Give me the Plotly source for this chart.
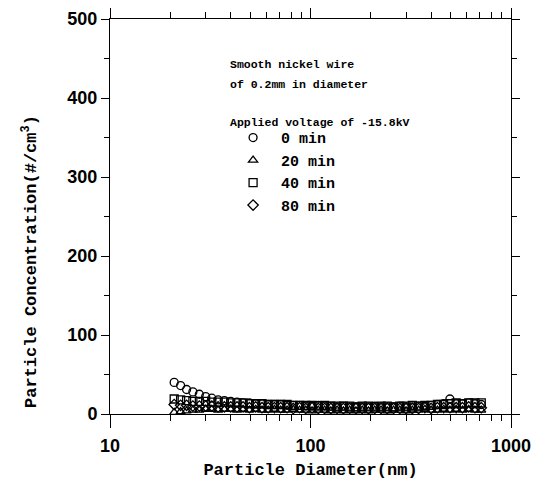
import plotly.graph_objects as go

diameter_nm = [20.9, 22.5, 24.1, 25.9, 27.9, 30.0, 32.2, 34.6, 37.2, 40.0,
               43.0, 46.1, 49.6, 53.3, 57.3, 61.5, 66.1, 71.0, 76.4, 82.0,
               88.2, 94.7, 101.8, 109.4, 117.6, 126.3, 135.7, 145.9, 156.8, 168.5,
               181.1, 194.6, 209.1, 224.7, 241.4, 259.5, 278.8, 299.6, 322.0, 346.0,
               371.8, 399.5, 429.4, 461.4, 495.8, 532.8, 572.5, 615.3, 661.2, 710.5]

conc_0min = [40, 36, 31, 28, 25, 22, 20, 18, 17, 16,
             15, 14, 14, 13, 13, 12, 12, 12, 11, 11,
             11, 10, 10, 11, 10, 10, 9, 10, 9, 9,
             9, 9, 10, 9, 9, 9, 10, 9, 9, 10,
             10, 11, 12, 13, 19, 13, 13, 14, 13, 12]

conc_20min = [2, 3, 4, 5, 5, 6, 6, 5, 6, 6,
              5, 6, 5, 6, 5, 5, 6, 5, 5, 6,
              5, 5, 4, 5, 5, 4, 5, 4, 5, 4,
              5, 4, 5, 5, 4, 5, 5, 4, 5, 5,
              6, 5, 5, 6, 5, 6, 5, 6, 5, 5]

conc_40min = [19, 18, 17, 16, 16, 16, 15, 15, 15, 14,
              14, 14, 13, 13, 13, 12, 12, 12, 12, 11,
              11, 11, 11, 10, 11, 10, 10, 10, 10, 9,
              10, 10, 9, 10, 10, 9, 10, 10, 11, 10,
              11, 11, 12, 12, 13, 14, 13, 14, 14, 14]

conc_80min = [12, 11, 11, 10, 10, 10, 10, 9, 9, 9,
              9, 9, 8, 9, 8, 8, 8, 8, 8, 7,
              8, 7, 8, 7, 7, 7, 7, 7, 7, 7,
              7, 7, 7, 7, 7, 7, 7, 7, 7, 7,
              8, 7, 8, 8, 8, 8, 8, 9, 8, 8]

series_names = ["0 min", "20 min", "40 min", "80 min"]
series_values = [conc_0min, conc_20min, conc_40min, conc_80min]
series_symbols = ["circle-open", "triangle-up-open", "square-open", "diamond-open"]

header_lines = ["Smooth nickel wire", "of 0.2mm in diameter", "Applied voltage of -15.8kV"]

x_tick_vals = [10, 100, 1000]
x_tick_text = ["10", "100", "1000"]
x_minor_vals = [20, 30, 40, 50, 60, 70, 80, 90, 200, 300, 400, 500, 600, 700, 800, 900]
y_tick_vals = [0, 100, 200, 300, 400, 500]

mono = "Liberation Mono"
sans = "Liberation Sans"

fig = go.Figure()
for name, vals, sym in zip(series_names, series_values, series_symbols):
    fig.add_trace(go.Scatter(
        x=diameter_nm, y=vals, mode="markers", name=name,
        marker=dict(symbol=sym, size=8, color="black", line=dict(color="black", width=1.3)),
    ))

# header text inside the plot (paper coordinates)
header_y = [0.884, 0.835, 0.739]
for txt, yy in zip(header_lines, header_y):
    fig.add_annotation(
        text=txt, xref="paper", yref="paper", x=0.294, y=yy,
        xanchor="left", yanchor="middle", showarrow=False,
        font=dict(family=mono, size=11.5, color="black", weight="bold"),
    )

# y-axis title (placed as in the reference, slightly below centre)
fig.add_annotation(
    text="Particle Concentration(#/cm<sup>3</sup>)", textangle=-90,
    xref="paper", yref="paper", x=-0.2, y=0.387,
    xanchor="center", yanchor="middle", showarrow=False,
    font=dict(family=mono, size=17, color="black", weight="bold"),
)

fig.update_layout(
    width=544, height=479,
    margin=dict(l=102, r=41, t=11, b=73),
    paper_bgcolor="white", plot_bgcolor="white",
    showlegend=True,
    legend=dict(
        x=0.287, y=0.741, xanchor="left", yanchor="top",
        bgcolor="rgba(0,0,0,0)",
        font=dict(family=mono, size=15, color="black", weight="bold"),
        itemsizing="trace",
        itemwidth=46,
        tracegroupgap=0,
    ),
    xaxis=dict(
        type="log", range=[1, 3], automargin=False,
        tickvals=x_tick_vals, ticktext=x_tick_text,
        ticks="outside", ticklen=13, tickcolor="black",
        minor=dict(tickvals=x_minor_vals, ticks="outside", ticklen=6, tickcolor="black", showgrid=False),
        showline=True, linecolor="black", linewidth=1, mirror="ticks",
        showgrid=False, zeroline=False,
        tickfont=dict(family=sans, size=18, color="black", weight="bold"),
        ticklabelstandoff=2,
        title=dict(text="Particle Diameter(nm)",
                   font=dict(family=mono, size=17, color="black", weight="bold"), standoff=8),
    ),
    yaxis=dict(
        range=[0, 500], tickvals=y_tick_vals, automargin=False,
        ticks="outside", ticklen=8, tickcolor="black",
        minor=dict(dtick=50, ticks="outside", ticklen=5, tickcolor="black", showgrid=False),
        showline=True, linecolor="black", linewidth=1, mirror="ticks",
        showgrid=False, zeroline=False,
        tickfont=dict(family=sans, size=18, color="black", weight="bold"),
    ),
)

fig.write_html("out.html")
